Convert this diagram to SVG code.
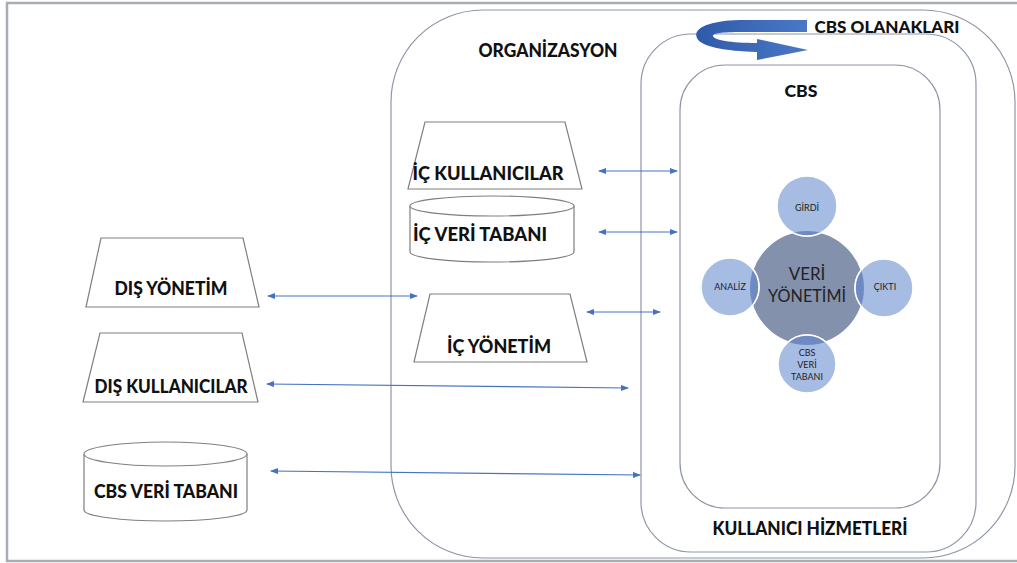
<svg xmlns="http://www.w3.org/2000/svg" width="1017" height="563" viewBox="0 0 1017 563">
<style>
.lbl{font-family:Lato,"Open Sans","Liberation Sans",sans-serif;font-weight:900;fill:#111;}
.frame{fill:none;stroke:#8e96a6;stroke-width:1.2;}
.shape{fill:#fff;stroke:#7f7f7f;stroke-width:1.2;}
.conn{stroke:#4472c4;stroke-width:1.2;fill:none;marker-start:url(#ah);marker-end:url(#ah);}
.ctext{font-family:Lato,"Open Sans","Liberation Sans",sans-serif;fill:#222;text-anchor:middle;}
.small{fill:#a7bce3;stroke:#fff;stroke-width:1.5;}
</style>
<defs>
<marker id="ah" markerWidth="8" markerHeight="6" refX="7" refY="3" orient="auto-start-reverse" markerUnits="userSpaceOnUse">
<path d="M0,0 L8,3 L0,6 Z" fill="#4472c4"/>
</marker>
<linearGradient id="ribbon" x1="0" y1="0" x2="1" y2="0">
<stop offset="0" stop-color="#2f5aa8"/>
<stop offset="1" stop-color="#4a78c8"/>
</linearGradient>
<clipPath id="bigclip"><circle cx="807" cy="288" r="57"/></clipPath>
</defs>
<rect x="0" y="0" width="1017" height="563" fill="#fff"/>
<rect x="7" y="3" width="1030" height="558" fill="none" stroke="#a8adb3" stroke-width="2.5"/>

<g id="organizasyon">
<rect class="frame" x="391" y="10" width="624" height="548" rx="92" ry="92"/>
<text class="lbl" x="548" y="57" font-size="19" text-anchor="middle" textLength="139" lengthAdjust="spacingAndGlyphs">ORGANİZASYON</text>
</g>
<g id="cbs-olanaklari">
<rect class="frame" x="641" y="34" width="335" height="518" rx="50" ry="50"/>
<path d="M807,20 L740,20 C704,21 693,30 697,38 C701,47 725,51 757,52 L757,60 L808,50 L757,39 L757,43 C730,43 714,40 713,36 C712,33 725,32 745,32 L807,32 Z" fill="url(#ribbon)"/>
<text class="lbl" x="887" y="33" font-size="17" text-anchor="middle" textLength="145" lengthAdjust="spacingAndGlyphs">CBS OLANAKLARI</text>
<text class="lbl" x="810" y="535" font-size="18" text-anchor="middle" textLength="195" lengthAdjust="spacingAndGlyphs">KULLANICI HİZMETLERİ</text>
</g>
<g id="cbs">
<rect class="frame" x="680" y="65" width="260" height="443" rx="45" ry="45"/>
<text class="lbl" x="801" y="97" font-size="17" text-anchor="middle" textLength="33" lengthAdjust="spacingAndGlyphs">CBS</text>
</g>

<g id="ic-kullanicilar">
<path class="shape" d="M425,122 L565,122 L582,189 L408,189 Z"/>
<text class="lbl" x="488" y="180" font-size="19" text-anchor="middle" textLength="151" lengthAdjust="spacingAndGlyphs">İÇ KULLANICILAR</text>
</g>
<g id="ic-veri-tabani">
<path class="shape" d="M410,206 A82,10 0 0 1 574,206 L574,252 A82,10 0 0 1 410,252 Z"/>
<path class="shape" d="M410,206 A82,10 0 0 0 574,206" fill="none"/>
<text class="lbl" x="480" y="241" font-size="19" text-anchor="middle" textLength="134" lengthAdjust="spacingAndGlyphs">İÇ VERİ TABANI</text>
</g>
<g id="ic-yonetim">
<path class="shape" d="M430,294 L570,294 L587,362 L414,362 Z"/>
<text class="lbl" x="499" y="353" font-size="19" text-anchor="middle" textLength="104" lengthAdjust="spacingAndGlyphs">İÇ YÖNETİM</text>
</g>
<g id="dis-yonetim">
<path class="shape" d="M101,238 L243,238 L259,307 L86,307 Z"/>
<text class="lbl" x="171" y="295" font-size="19" text-anchor="middle" textLength="113" lengthAdjust="spacingAndGlyphs">DIŞ YÖNETİM</text>
</g>
<g id="dis-kullanicilar">
<path class="shape" d="M100,333 L242,333 L258,402 L83,402 Z"/>
<text class="lbl" x="171" y="393" font-size="19" text-anchor="middle" textLength="153" lengthAdjust="spacingAndGlyphs">DIŞ KULLANICILAR</text>
</g>
<g id="cbs-veri-tabani">
<path class="shape" d="M84,454 A81.5,12 0 0 1 247,454 L247,510 A81.5,11 0 0 1 84,510 Z"/>
<path class="shape" d="M84,454 A81.5,12 0 0 0 247,454" fill="none"/>
<text class="lbl" x="166" y="498" font-size="19" text-anchor="middle" textLength="144" lengthAdjust="spacingAndGlyphs">CBS VERİ TABANI</text>
</g>

<g id="veri-yonetimi">
<circle cx="807" cy="288" r="57" fill="#8391ad" stroke="#fff" stroke-width="1.5"/>
</g>
<g id="girdi">
<circle class="small" cx="807" cy="206" r="30"/>
<circle cx="807" cy="206" r="30" fill="#6f8ac2" clip-path="url(#bigclip)" stroke="#fff" stroke-width="1.5"/>
<text class="ctext" x="807" y="211" font-size="9">GİRDİ</text>
</g>
<g id="analiz">
<circle class="small" cx="730" cy="287" r="29"/>
<circle cx="730" cy="287" r="29" fill="#6f8ac2" clip-path="url(#bigclip)" stroke="#fff" stroke-width="1.5"/>
<text class="ctext" x="730" y="290" font-size="9">ANALİZ</text>
</g>
<g id="cikti">
<circle class="small" cx="884" cy="288" r="29"/>
<circle cx="884" cy="288" r="29" fill="#6f8ac2" clip-path="url(#bigclip)" stroke="#fff" stroke-width="1.5"/>
<text class="ctext" x="885" y="290" font-size="9">ÇIKTI</text>
</g>
<g id="cbs-veri-tabani-c">
<circle class="small" cx="807" cy="364" r="29"/>
<circle cx="807" cy="364" r="29" fill="#6f8ac2" clip-path="url(#bigclip)" stroke="#fff" stroke-width="1.5"/>
<text class="ctext" x="807" y="356" font-size="9">CBS</text>
<text class="ctext" x="807" y="368" font-size="9">VERİ</text>
<text class="ctext" x="807" y="380" font-size="9">TABANI</text>
</g>
<g id="veri-yonetimi-text">
<text class="ctext" x="807" y="280" font-size="17" fill="#1c2533">VERİ</text>
<text class="ctext" x="807" y="302" font-size="17" fill="#1c2533" textLength="78" lengthAdjust="spacingAndGlyphs">YÖNETİMİ</text>
</g>

<g id="connectors">
<line class="conn" x1="599" y1="171" x2="677" y2="171"/>
<line class="conn" x1="599" y1="232" x2="677" y2="232"/>
<line class="conn" x1="268" y1="296" x2="417" y2="296"/>
<line class="conn" x1="267" y1="384" x2="628" y2="388"/>
<line class="conn" x1="587" y1="312" x2="660" y2="312"/>
<line class="conn" x1="271" y1="471" x2="640" y2="475"/>
</g>
</svg>
